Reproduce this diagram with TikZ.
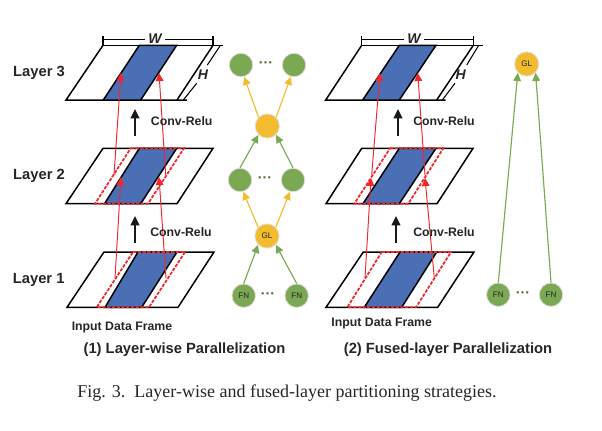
\documentclass[tikz,border=0pt]{standalone}
\usepackage{fontspec}
\setmainfont{Liberation Sans}
\newfontfamily\capfont{Liberation Serif}
\usetikzlibrary{arrows.meta}
\definecolor{bandblue}{HTML}{4A6FB5}
\definecolor{fngreen}{HTML}{7BA852}
\definecolor{glyellow}{HTML}{F3BC2E}
\definecolor{inkdark}{HTML}{262626}
\definecolor{linkred}{HTML}{F0282D}

\begin{document}
\begin{tikzpicture}[x=0.02cm, y=-0.02cm,
	every node/.style={text=inkdark, inner sep=0pt},
	layerlabel/.style={font=\fontsize{8.4}{10}\selectfont\bfseries},
	smalllabel/.style={font=\fontsize{7}{9}\selectfont\bfseries},
	dimlabel/.style={font=\fontsize{8}{10}\selectfont\bfseries\itshape},
	framedge/.style={black, line width=0.85pt},
	dimedge/.style={black, line width=0.6pt},
	blueband/.style={fill=bandblue, draw=black, line width=0.85pt},
	dashband/.style={linkred, line width=1pt, dash pattern=on 1.9pt off 0.8pt},
	redarrow/.style={-{Triangle[length=4.6pt, width=4.4pt]}, linkred, line width=0.55pt},
	blackarrow/.style={-{Triangle[length=5.4pt, width=5pt]}, black!90, line width=1.1pt},
	greenarrow/.style={-{Triangle[length=4.6pt, width=4.4pt]}, fngreen, line width=0.65pt},
	yellowarrow/.style={-{Triangle[length=4.6pt, width=4.4pt]}, glyellow, line width=0.65pt},
	greennode/.style={circle, fill=fngreen, draw=black!12, line width=0.5pt, minimum size=13.4pt},
	yellownode/.style={circle, fill=glyellow, draw=black!12, line width=0.5pt, minimum size=13.8pt},
	nodetext/.style={font=\fontsize{4.6}{5}\selectfont},
	dotlabel/.style={font=\fontsize{8}{9}\selectfont\bfseries, text=fngreen!60!black},
	]
	\useasboundingbox (0,0) rectangle (602,430);

	% left panel, frames
	\draw[framedge] (103,45.3) -- (223,45.3);
	\draw[framedge] (103,45.3) -- (66,100) -- (187,100);
	\draw[framedge] (213,45.3) -- (177,100);
	\draw[dimedge] (220,46) -- (207.3,65) (196.7,83.3) -- (183.3,100);
	\draw[blueband] (139.3,45.3) -- (176.7,45.3) -- (140.7,100) -- (103.3,100) -- cycle;
	\draw[framedge] (103,148.3) -- (213,148.3) -- (177,203.7) -- (66,203.7) -- cycle;
	\draw[blueband] (139.3,148.3) -- (176.7,148.3) -- (140.7,203.7) -- (104.5,203.7) -- cycle;
	\draw[dashband] (130.7,148.3) -- (184,148.3) -- (148,203.7) -- (95,203.7) -- cycle;
	\draw[framedge] (104,252) -- (214,252) -- (178,307.3) -- (67,307.3) -- cycle;
	\draw[blueband] (138,252) -- (177,252) -- (141.7,307.3) -- (105,307.3) -- cycle;
	\draw[dashband] (133,252) -- (185,252) -- (149,307.3) -- (96.7,307.3) -- cycle;

	% W and H of left panel
	\node[dimlabel] (widthA) at (155,38.5) {W};
	\node[dimlabel] (heightA) at (203,75) {H};
	\draw[dimedge] (103,36) -- (103,45) (103,39.5) -- (145,39.5);
	\draw[dimedge] (213,36) -- (213,45) (213,39.5) -- (165,39.5);

	% left panel, red arrows
	\coordinate (a1) at (114,175);
	\coordinate (a2) at (121,73);
	\coordinate (a3) at (165.7,175);
	\coordinate (a4) at (159,73);
	\coordinate (a5) at (115,278);
	\coordinate (a6) at (121,177);
	\coordinate (a7) at (166,278);
	\coordinate (a8) at (159,177);
	\draw[redarrow] (a1) -- (a2);
	\draw[redarrow] (a3) -- (a4);
	\draw[redarrow] (a5) -- (a6);
	\draw[redarrow] (a7) -- (a8);

	% left panel, black arrows
	\coordinate (k1) at (135,136);
	\coordinate (k2) at (135,109);
	\coordinate (k3) at (135,242.7);
	\coordinate (k4) at (135,216);
	\draw[blackarrow] (k1) -- (k2);
	\draw[blackarrow] (k3) -- (k4);

	\node[layerlabel] (layerC) at (39,73) {Layer 3};
	\node[layerlabel] (layerB) at (39,175.5) {Layer 2};
	\node[layerlabel] (layerA) at (38.7,279.5) {Layer 1};
	\node[smalllabel] (convB) at (181.7,120.7) {Conv-Relu};
	\node[smalllabel] (convA) at (181,232) {Conv-Relu};
	\node[smalllabel] (inputA) at (122,327.5) {Input Data Frame};
	\node[layerlabel] (titleA) at (184.5,350) {(1) Layer-wise Parallelization};

	% left panel, tree
	\node[greennode] (g31) at (241,65) {};
	\node[greennode] (g32) at (294,65) {};
	\node[dotlabel] (d3) at (266,65) {···};
	\node[yellownode] (gm) at (267.3,126) {};
	\node[greennode] (g21) at (240,180) {};
	\node[greennode] (g22) at (293,180) {};
	\node[dotlabel] (d2) at (265,180) {···};
	\node[yellownode, nodetext] (gl) at (267,236) {GL};
	\node[greennode, nodetext] (fn1) at (243.7,295.7) {FN};
	\node[greennode, nodetext] (fn2) at (296.7,295.7) {FN};
	\node[dotlabel] (d1) at (268,295.7) {···};
	\draw[yellowarrow] (gm.135) -- (g31.-75);
	\draw[yellowarrow] (gm.45) -- (g32.-105);
	\draw[greenarrow] (g21.north) -- (gm.225);
	\draw[greenarrow] (g22.north) -- (gm.-45);
	\draw[yellowarrow] (gl.135) -- (g21.-75);
	\draw[yellowarrow] (gl.45) -- (g22.-105);
	\draw[greenarrow] (fn1.north) -- (gl.225);
	\draw[greenarrow] (fn2.north) -- (gl.-45);

	% right panel, frames
	\draw[framedge] (361.7,45.3) -- (482.7,45.3);
	\draw[framedge] (361.7,45.3) -- (325.7,100) -- (445.7,100);
	\draw[framedge] (473.3,45.3) -- (436.7,100);
	\draw[dimedge] (478.3,46) -- (466.7,65) (455,83.3) -- (442.3,100);
	\draw[blueband] (399.3,45.3) -- (436,45.3) -- (399.3,100) -- (362.7,100) -- cycle;
	\draw[framedge] (361.7,148.3) -- (473,148.3) -- (437,203.7) -- (326,203.7) -- cycle;
	\draw[blueband] (399.3,148.3) -- (436,148.3) -- (399.3,203.7) -- (363,203.7) -- cycle;
	\draw[dashband] (390,148.3) -- (443.3,148.3) -- (408.3,203.7) -- (354.3,203.7) -- cycle;
	\draw[framedge] (363.3,252) -- (474,252) -- (437.7,307.3) -- (326,307.3) -- cycle;
	\draw[blueband] (400,252) -- (436.7,252) -- (401.7,307.3) -- (364.3,307.3) -- cycle;
	\draw[dashband] (381.7,252) -- (451,252) -- (416,307.3) -- (347.3,307.3) -- cycle;

	% W and H of right panel
	\node[dimlabel] (widthB) at (414,38.5) {W};
	\node[dimlabel] (heightB) at (460.7,75) {H};
	\draw[dimedge] (361.7,36) -- (361.7,45) (361.7,39.5) -- (404,39.5);
	\draw[dimedge] (473.3,36) -- (473.3,45) (473.3,39.5) -- (424,39.5);

	% right panel, red arrows
	\coordinate (b1) at (371.7,175);
	\coordinate (b2) at (380,73);
	\coordinate (b3) at (425,175);
	\coordinate (b4) at (417.7,73);
	\coordinate (b5) at (365,278);
	\coordinate (b6) at (371,178);
	\coordinate (b7) at (434.3,278);
	\coordinate (b8) at (425,178);
	\draw[redarrow] (b1) -- (b2);
	\draw[redarrow] (b3) -- (b4);
	\draw[redarrow] (b5) -- (b6);
	\draw[redarrow] (b7) -- (b8);

	% right panel, black arrows
	\coordinate (m1) at (398,136);
	\coordinate (m2) at (398,109);
	\coordinate (m3) at (396,243);
	\coordinate (m4) at (396,216);
	\draw[blackarrow] (m1) -- (m2);
	\draw[blackarrow] (m3) -- (m4);

	\node[smalllabel] (convD) at (444,121) {Conv-Relu};
	\node[smalllabel] (convC) at (444,232) {Conv-Relu};
	\node[smalllabel] (inputB) at (381.7,323.5) {Input Data Frame};
	\node[layerlabel] (titleB) at (448,350) {(2) Fused-layer Parallelization};

	% right panel, tree
	\node[yellownode, nodetext] (gr) at (526.7,64) {GL};
	\node[greennode, nodetext] (fn3) at (498.3,294.7) {FN};
	\node[greennode, nodetext] (fn4) at (551,294.7) {FN};
	\node[dotlabel] (d4) at (523,294.7) {···};
	\draw[greenarrow] (fn3.north) -- (gr.225);
	\draw[greenarrow] (fn4.north) -- (gr.-45);

	\node[font=\capfont\fontsize{10.25}{12}\selectfont] (caption) at (287,393.5) {Fig. 3.\ \ Layer-wise and fused-layer partitioning strategies.};
\end{tikzpicture}
\end{document}
